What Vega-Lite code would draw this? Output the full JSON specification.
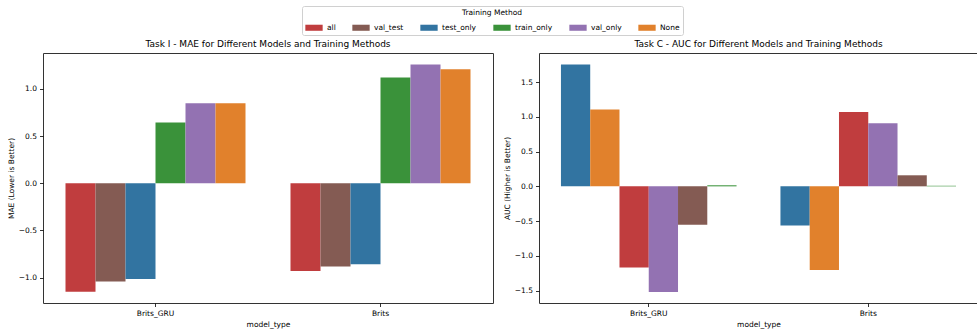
{
  "$schema": "https://vega.github.io/schema/vega-lite/v6.json",
  "background": "white",
  "padding": {"left": 6, "top": 5, "right": 0, "bottom": 2},
  "spacing": 8,
  "datasets": {
    "mae": [
      {"model_type": "Brits_GRU", "method": "all", "value": -1.15},
      {"model_type": "Brits_GRU", "method": "val_test", "value": -1.043},
      {"model_type": "Brits_GRU", "method": "test_only", "value": -1.015},
      {"model_type": "Brits_GRU", "method": "train_only", "value": 0.643},
      {"model_type": "Brits_GRU", "method": "val_only", "value": 0.848},
      {"model_type": "Brits_GRU", "method": "None", "value": 0.848},
      {"model_type": "Brits", "method": "all", "value": -0.93},
      {"model_type": "Brits", "method": "val_test", "value": -0.884},
      {"model_type": "Brits", "method": "test_only", "value": -0.86},
      {"model_type": "Brits", "method": "train_only", "value": 1.12},
      {"model_type": "Brits", "method": "val_only", "value": 1.258},
      {"model_type": "Brits", "method": "None", "value": 1.209}
    ],
    "auc": [
      {"model_type": "Brits_GRU", "method": "test_only", "value": 1.755},
      {"model_type": "Brits_GRU", "method": "None", "value": 1.105},
      {"model_type": "Brits_GRU", "method": "all", "value": -1.169},
      {"model_type": "Brits_GRU", "method": "val_only", "value": -1.52},
      {"model_type": "Brits_GRU", "method": "val_test", "value": -0.554},
      {"model_type": "Brits_GRU", "method": "train_only", "value": 0.015},
      {"model_type": "Brits", "method": "test_only", "value": -0.563},
      {"model_type": "Brits", "method": "None", "value": -1.203},
      {"model_type": "Brits", "method": "all", "value": 1.072},
      {"model_type": "Brits", "method": "val_only", "value": 0.909},
      {"model_type": "Brits", "method": "val_test", "value": 0.159},
      {"model_type": "Brits", "method": "train_only", "value": 0.008}
    ]
  },
  "hconcat": [
    {
      "data": {"name": "mae"},
      "width": 450,
      "height": 250,
      "title": "Task I - MAE for Different Models and Training Methods",
      "mark": {"type": "bar"},
      "encoding": {
        "x": {"field": "model_type", "type": "nominal", "sort": ["Brits_GRU", "Brits"],
              "scale": {"paddingInner": 0.2, "paddingOuter": 0.1}, "title": "model_type"},
        "xOffset": {"field": "method", "type": "nominal", "sort": ["all", "val_test", "test_only", "train_only", "val_only", "None"]},
        "y": {"field": "value", "type": "quantitative", "scale": {"domain": [-1.27, 1.38], "nice": false, "zero": false},
              "axis": {"values": [-1, -0.5, 0, 0.5, 1], "format": ".1f"}, "title": "MAE (Lower is Better)"},
        "color": {"field": "method", "type": "nominal", "title": "Training Method",
                  "scale": {"domain": ["all", "val_test", "test_only", "train_only", "val_only", "None"],
                            "range": ["#c03d3e", "#845b53", "#3274a1", "#3a923a", "#9372b2", "#e1812c"]}}
      }
    },
    {
      "data": {"name": "auc"},
      "width": 439,
      "height": 250,
      "title": "Task C - AUC for Different Models and Training Methods",
      "mark": {"type": "bar"},
      "encoding": {
        "x": {"field": "model_type", "type": "nominal", "sort": ["Brits_GRU", "Brits"],
              "scale": {"paddingInner": 0.2, "paddingOuter": 0.1}, "title": "model_type"},
        "xOffset": {"field": "method", "type": "nominal", "sort": ["test_only", "None", "all", "val_only", "val_test", "train_only"]},
        "y": {"field": "value", "type": "quantitative", "scale": {"domain": [-1.68, 1.92], "nice": false, "zero": false},
              "axis": {"values": [-1.5, -1, -0.5, 0, 0.5, 1, 1.5], "format": ".1f"}, "title": "AUC (Higher is Better)"},
        "color": {"field": "method", "type": "nominal", "title": "Training Method",
                  "scale": {"domain": ["all", "val_test", "test_only", "train_only", "val_only", "None"],
                            "range": ["#c03d3e", "#845b53", "#3274a1", "#3a923a", "#9372b2", "#e1812c"]}}
      }
    }
  ],
  "resolve": {"scale": {"xOffset": "independent", "y": "independent", "x": "independent"}},
  "config": {
    "font": "DejaVu Sans",
    "view": {"stroke": "#333333", "strokeWidth": 1},
    "title": {"fontSize": 9, "fontWeight": "normal", "color": "#000000", "offset": 4, "font": "DejaVu Sans"},
    "axis": {
      "domain": false, "grid": false, "tickColor": "#000000", "tickSize": 3.5, "tickWidth": 0.8,
      "labelFontSize": 7.5, "titleFontSize": 7.5, "labelColor": "#000000", "titleColor": "#000000",
      "titleFontWeight": "normal", "labelFont": "DejaVu Sans", "titleFont": "DejaVu Sans", "labelPadding": 3, "titlePadding": 3
    },
    "axisX": {"labelAngle": 0},
    "legend": {
      "orient": "top",
      "direction": "horizontal",
      "columns": 6,
      "titleAnchor": "middle",
      "titleFontSize": 7.5,
      "titleFontWeight": "normal",
      "titleColor": "#000000",
      "titlePadding": 2,
      "labelFontSize": 7.5,
      "labelColor": "#000000",
      "symbolType": "M-1,-0.35H1V0.35H-1Z",
      "symbolSize": 300,
      "symbolStrokeWidth": 0,
      "columnPadding": 16,
      "strokeColor": "#d0d0d0",
      "padding": 3,
      "cornerRadius": 2,
      "offset": 4,
      "layout": {"top": {"anchor": "middle"}}
    }
  }
}
